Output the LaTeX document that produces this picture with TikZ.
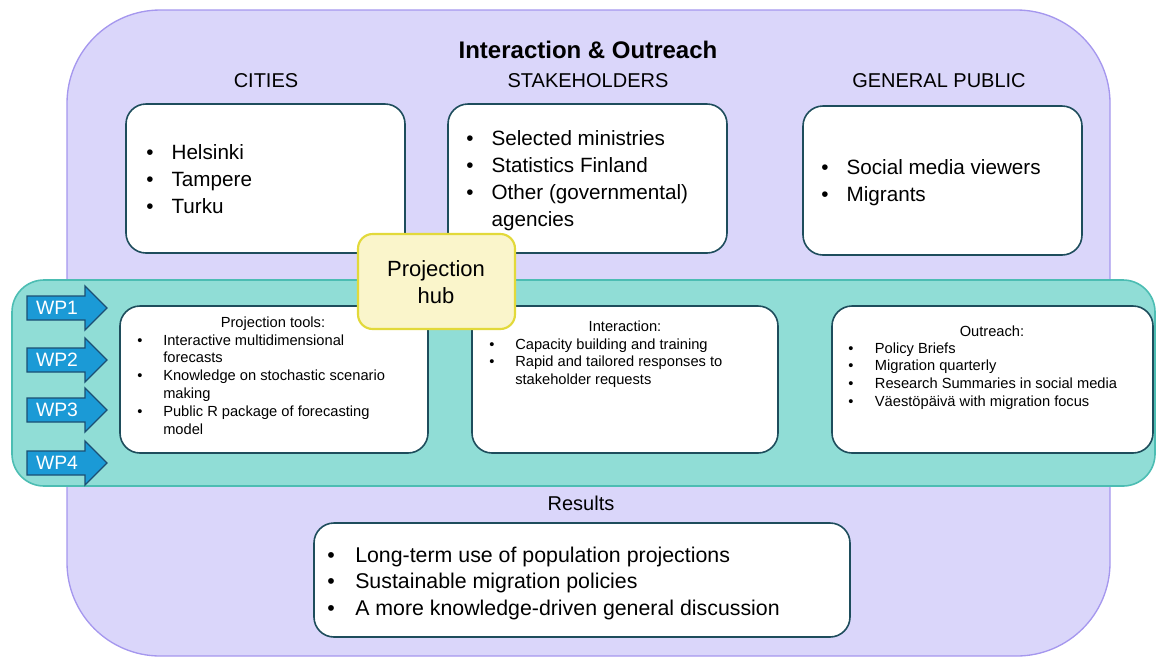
\documentclass[tikz,border=0pt]{standalone}
\usepackage{fontspec}
\setmainfont{Liberation Sans}
\usetikzlibrary{fit}

\definecolor{lavender}{HTML}{DAD6FA}
\definecolor{lavenderline}{HTML}{A597EE}
\definecolor{bandfill}{HTML}{90DDD6}
\definecolor{bandline}{HTML}{4CBDB3}
\definecolor{boxline}{HTML}{1E4D5C}
\definecolor{hubfill}{HTML}{FAF5CB}
\definecolor{hubline}{HTML}{E2D93A}
\definecolor{wpfill}{HTML}{1B9AD6}
\definecolor{wpline}{HTML}{1C4F73}

\begin{document}
\begin{tikzpicture}[x=0.75pt,y=-0.75pt,
    box/.style={draw=boxline,line width=1.2pt,fill=white,rounded corners=15pt,inner sep=0pt},
    big/.style={anchor=base west,inner sep=0pt,font=\fontsize{15.5}{20.25}\selectfont},
    small/.style={anchor=base west,inner sep=0pt,font=\fontsize{11}{13.4}\selectfont},
    heading/.style={anchor=base,inner sep=0pt,font=\fontsize{15}{18}\selectfont},
    subhead/.style={anchor=base,inner sep=0pt,font=\fontsize{11}{13.4}\selectfont}]
  \useasboundingbox (0,0) rectangle (1156,658);

  % outer frame
  \node[draw=lavenderline,line width=1pt,fill=lavender,rounded corners=70pt,inner sep=0pt,
    fit={(67,10) (1110,656)}] (frame) {};
  \node[anchor=base,inner sep=0pt,font=\fontsize{18}{22}\selectfont\bfseries] (title) at (588,58)
    {Interaction \& Outreach};
  \node[heading] (citieshead) at (266,87) {CITIES};
  \node[heading] (stakehead) at (588,87) {STAKEHOLDERS};
  \node[heading] (publichead) at (939,87) {GENERAL PUBLIC};

  \node[box,fit={(126,104) (405,253)}] (cities) {};
  \node[box,fit={(448,104) (727,253)}] (stake) {};
  \node[box,fit={(803,106) (1082,255)}] (public) {};

  \node[big] (citieslist) at (146,159) {\begin{tabular}[t]{@{}p{19pt}@{}l@{}}
    \textbullet & Helsinki\\
    \textbullet & Tampere\\
    \textbullet & Turku
  \end{tabular}};
  \node[big] (stakelist) at (466,145) {\begin{tabular}[t]{@{}p{19pt}@{}l@{}}
    \textbullet & Selected ministries\\
    \textbullet & Statistics Finland\\
    \textbullet & Other (governmental)\\
                & agencies
  \end{tabular}};
  \node[big] (publiclist) at (821,174) {\begin{tabular}[t]{@{}p{19pt}@{}l@{}}
    \textbullet & Social media viewers\\
    \textbullet & Migrants
  \end{tabular}};

  % work package band
  \node[draw=bandline,line width=1.2pt,fill=bandfill,rounded corners=24pt,inner sep=0pt,
    fit={(12,280) (1155,486)}] (band) {};

  \foreach \i/\y in {1/308,2/360,3/410,4/463}{
    \draw[draw=wpline,fill=wpfill,line width=1pt,line join=miter]
      (27,\y-12) -- (85,\y-12) -- (85,\y-22) -- (107,\y) -- (85,\y+22) -- (85,\y+12) -- (27,\y+12) -- cycle;
    \node[text=white,inner sep=0pt,font=\fontsize{14.5}{16}\selectfont] (wp\i) at (57,\y) {WP\i};
  }

  \node[box,fit={(120,306) (428,453)}] (tools) {};
  \node[box,fit={(472,306) (778,453)}] (interact) {};
  \node[box,fit={(832,306) (1153,453)}] (outreach) {};

  \node[subhead] (toolshead) at (273,327) {Projection tools:};
  \node[small] (toolslist) at (137,345) {\begin{tabular}[t]{@{}p{19.5pt}@{}l@{}}
    \textbullet & Interactive multidimensional\\
                & forecasts\\
    \textbullet & Knowledge on stochastic scenario\\
                & making\\
    \textbullet & Public R package of forecasting\\
                & model
  \end{tabular}};

  \node[subhead] (interacthead) at (625,331) {Interaction:};
  \node[small] (interactlist) at (489,349) {\begin{tabular}[t]{@{}p{19.5pt}@{}l@{}}
    \textbullet & Capacity building and training\\
    \textbullet & Rapid and tailored responses to\\
                & stakeholder requests
  \end{tabular}};

  \node[subhead] (outreachhead) at (992,336) {Outreach:};
  \node[small] (outreachlist) at (848,353) {\begin{tabular}[t]{@{}p{20pt}@{}l@{}}
    \textbullet & Policy Briefs\\
    \textbullet & Migration quarterly\\
    \textbullet & Research Summaries in social media\\
    \textbullet & Väestöpäivä with migration focus
  \end{tabular}};

  % hub sits on top of the boxes around it
  \node[draw=hubline,line width=1.6pt,fill=hubfill,rounded corners=11pt,inner sep=0pt,
    fit={(358,234) (515,329)}] (hub) {};
  \node[anchor=base,inner sep=0pt,align=center,font=\fontsize{16.5}{20.25}\selectfont]
    (hubtext) at (436,303) {Projection\\hub};

  % results
  \node[heading] (resultshead) at (581,510) {Results};
  \node[box,fit={(314,523) (850,637)}] (results) {};
  \node[big,font=\fontsize{16}{19.9}\selectfont] (resultslist) at (327,562) {\begin{tabular}[t]{@{}p{21pt}@{}l@{}}
    \textbullet & Long-term use of population projections\\
    \textbullet & Sustainable migration policies\\
    \textbullet & A more knowledge-driven general discussion
  \end{tabular}};
\end{tikzpicture}
\end{document}
